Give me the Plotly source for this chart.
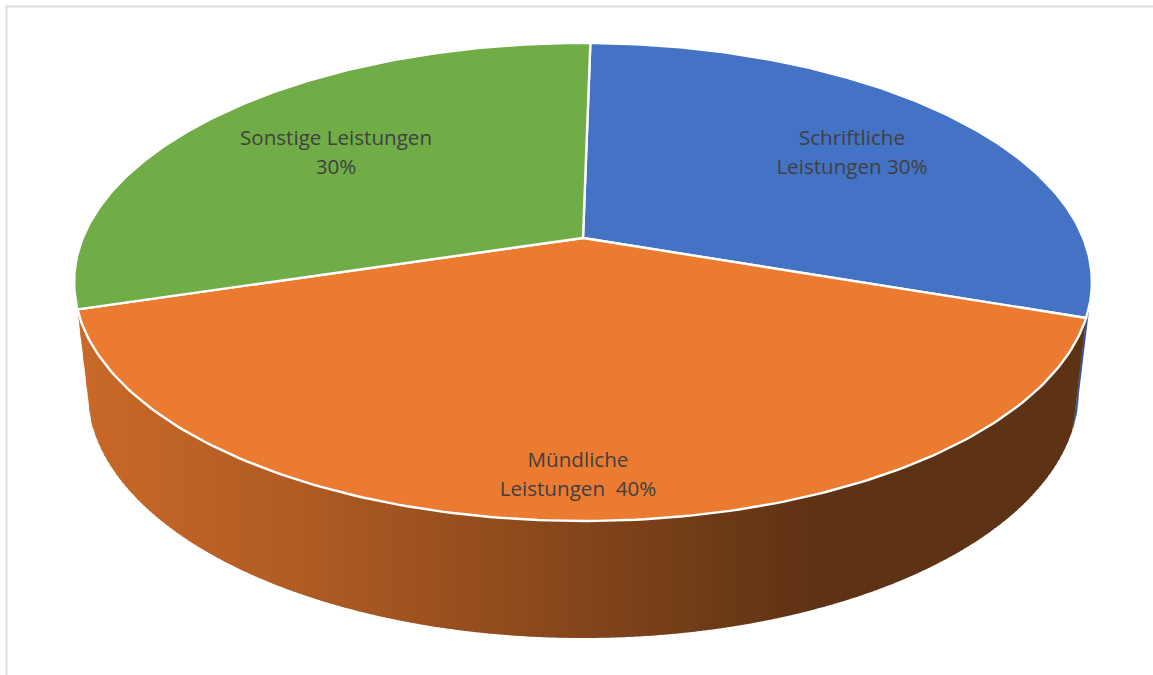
import numpy as np
import plotly.graph_objects as go

# --- data ---
categories = ["Schriftliche Leistungen", "Mündliche Leistungen", "Sonstige Leistungen"]
values = [30, 40, 30]
label_lines = [["Schriftliche", "Leistungen 30%"],
               ["Mündliche", "Leistungen\u00a0 40%"],
               ["Sonstige Leistungen", "30%"]]

# --- styling / layout ---
colors = ["#4472C4", "#EB7B30", "#70AD47"]
blue_wall = "#34558F"
label_anchor = [(852, 152), (578, 474), (336, 152)]
W, H = 1153, 675
CX, CY = 583.0, 238.0     # projected pie centre on the top face
A, B, K = 500.2, 230.9, 0.184   # perspective projection of the disc
START = 1.0               # degrees clockwise from 12 o'clock
WALL_FX, WALL_FY, WALL_CY = 0.974, 1.034, 345.4   # bottom face scale and centre


def project(deg, fx=1.0, fy=1.0, cy=CY):
    t = np.radians(deg)
    u, v = np.sin(t), np.cos(t)
    d = 1 + K * v
    return CX + fx * A * u / d, cy - fy * B * v / d


def wall_color(x):
    xs = [90, 300, 500, 700, 830, 1090]
    r = [200, 176, 146, 112, 93, 93]
    g = [105, 92, 76, 60, 50, 50]
    b = [41, 36, 30, 23, 21, 21]
    return "rgb(%d,%d,%d)" % (np.interp(x, xs, r), np.interp(x, xs, g), np.interp(x, xs, b))


spans = []
a0 = START
for v in values:
    a1 = a0 + 360.0 * v / sum(values)
    spans.append((a0, a1))
    a0 = a1

fig = go.Figure()


def poly(xs, ys, fill, line=None, width=1.0):
    fig.add_trace(go.Scatter(
        x=list(xs), y=list(ys), mode="lines", fill="toself", fillcolor=fill,
        line=dict(color=line or fill, width=width), hoverinfo="skip", showlegend=False))


# thin visible piece of the first slice's side wall
blue_end = spans[0][1]
th = np.linspace(blue_end - 7, blue_end, 12)
tx, ty = project(th)
bx, by = project(th, WALL_FX, WALL_FY, WALL_CY)
poly(np.r_[tx, bx[::-1]], np.r_[ty, by[::-1]], blue_wall, width=0.5)

# side wall of the front slice, drawn as narrow vertical strips shaded by x
s0, s1 = spans[1]
th = np.linspace(s1, s0, 400)          # left to right along the front
tx, ty = project(th)
bx, by = project(th, WALL_FX, WALL_FY, WALL_CY)
up_x, up_y = tx, ty
lo_x = np.r_[tx[0], bx, tx[-1]]
lo_y = np.r_[ty[0], by, ty[-1]]
grid = np.arange(tx[0], tx[-1] + 3, 3.0)
grid[-1] = tx[-1]
for x0, x1 in zip(grid[:-1], grid[1:]):
    xx_f = np.linspace(x0, min(x1 + 0.8, tx[-1]), 3)
    y_u = np.interp(xx_f, up_x, up_y) - 2
    y_l = np.interp(xx_f, lo_x, lo_y)
    y_u = np.minimum(y_u, y_l)
    fig.add_trace(go.Scatter(
        x=np.r_[xx_f, xx_f[::-1]], y=np.r_[y_u, y_l[::-1]], mode="lines", fill="toself",
        fillcolor=wall_color(x0), line=dict(width=0), hoverinfo="skip", showlegend=False))

# top faces
for (a, b), col, name in zip(spans, colors, categories):
    th = np.linspace(a, b, 160)
    x, y = project(th)
    poly(np.r_[CX, x, CX], np.r_[CY, y, CY], col, line="white", width=2.4)
    fig.data[-1].name = name

# labels
lx, ly, lt = [], [], []
for (ax, ay), lines in zip(label_anchor, label_lines):
    lx += [ax, ax]
    ly += [ay - 12, ay + 17]
    lt += lines
fig.add_trace(go.Scatter(x=lx, y=ly, text=lt, mode="text", textposition="middle center",
                         textfont=dict(family="Open Sans", size=20.6, color="#404040"),
                         hoverinfo="skip", showlegend=False))

fig.update_layout(
    width=W, height=H, margin=dict(l=0, r=0, t=0, b=0),
    paper_bgcolor="white", plot_bgcolor="white",
    xaxis=dict(range=[0, W], visible=False, fixedrange=True),
    yaxis=dict(range=[H, 0], visible=False, fixedrange=True),
    shapes=[
        dict(type="line", xref="paper", yref="paper", x0=6.5 / W, x1=6.5 / W, y0=0, y1=1 - 6 / H,
             line=dict(color="#DCDCDC", width=2)),
        dict(type="line", xref="paper", yref="paper", x0=5.5 / W, x1=1, y0=1 - 6.5 / H, y1=1 - 6.5 / H,
             line=dict(color="#DCDCDC", width=2)),
    ],
)
fig.write_html("out.html", config=dict(displayModeBar=False),
               post_script="document.body.style.margin='0';document.documentElement.style.overflow='hidden';")
